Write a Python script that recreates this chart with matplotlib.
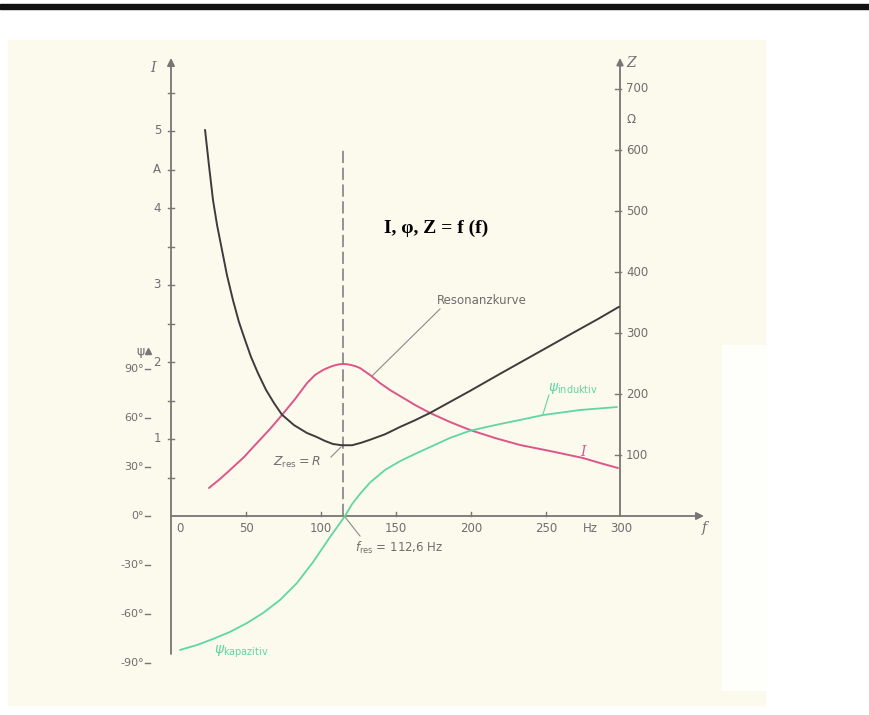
import matplotlib
matplotlib.use("Agg")
import matplotlib.pyplot as plt
from matplotlib.patches import Rectangle

# ---------------- data ----------------
# impedance Z (Ohm) versus frequency (Hz)
z_freq = [22.7, 25.3, 28.0, 30.7, 34.0, 37.3, 41.3, 45.3, 49.3, 53.3, 58.0, 63.3,
          68.7, 74.0, 82.0, 90.7, 96.7, 102.7, 108.0, 114.0, 120.7, 126.7, 132.7,
          142.7, 152.7, 162.7, 172.7, 186.0, 199.3, 219.3, 236.0, 252.7, 269.3,
          284.7, 298.7]
z_ohm = [633, 575, 518, 477, 436, 395, 354, 318, 289, 261, 234, 207,
         185, 166, 149, 136, 130, 123, 118, 116, 116, 120, 125,
         134, 146, 157, 169, 187, 205, 233, 256, 279, 302,
         323, 343]

# current I (A) versus frequency (Hz) - Resonanzkurve
i_freq = [25.3, 32.7, 39.3, 48.7, 57.3, 66.0, 74.0, 82.7, 90.7, 96.0, 101.3,
          105.0, 108.0, 111.0, 114.0, 117.0, 120.0, 123.0, 126.0, 132.7, 139.3,
          146.0, 152.7, 162.7, 172.7, 186.0, 199.3, 216.0, 232.7, 252.7, 274.7,
          286.0, 298.0]
i_amp = [0.364, 0.481, 0.597, 0.766, 0.948, 1.130, 1.312, 1.519, 1.727, 1.831, 1.896,
         1.928, 1.950, 1.966, 1.974, 1.972, 1.961, 1.945, 1.922, 1.831, 1.727,
         1.636, 1.558, 1.442, 1.338, 1.221, 1.117, 1.013, 0.922, 0.844, 0.753,
         0.688, 0.623]

# phase angle phi (degrees) versus frequency (Hz)
phi_freq = [6.0, 17.3, 28.0, 39.3, 50.7, 61.3, 72.7, 84.0, 94.7, 106.0, 111.3, 116.0,
            120.7, 126.0, 132.7, 142.7, 152.7, 162.7, 172.7, 186.0, 199.3, 219.3,
            232.7, 248.0, 272.7, 297.3]
phi_deg = [-82.0, -79.0, -75.3, -71.0, -65.5, -59.4, -51.4, -41.0, -28.2, -12.9, -6.1, 0.0,
           7.3, 13.5, 20.5, 28.2, 33.6, 38.0, 42.2, 47.8, 52.2, 56.3,
           58.8, 61.8, 64.9, 66.7]

res_line_f = 114.7          # position of the dashed resonance line
res_line_top_i = 4.78

x_ticks = [50, 100, 150, 200, 250, 300]
x_ticklabels = ["50", "100", "150", "200", "250", "300"]
i_ticks_major = [1, 2, 3, 4, 5]
i_ticks_minor = [0.5, 1.5, 2.5, 3.5, 4.5, 5.5]
z_ticks = [100, 200, 300, 400, 500, 600, 700]
phi_ticks = [90, 60, 30, 0, -30, -60, -90]

# ---------------- figure geometry ----------------
W, H = 869, 715
PX0, PXS = 171.0, 1.5     # pixel of f=0, pixels per Hz
PY0, PYS = 516.0, 77.0    # pixel of I=0, pixels per A
KZ = PYS / 0.61           # Ohm per A of screen height
KP = 30.0 * PYS / 49.0    # degrees per A of screen height

xlim = ((0 - PX0) / PXS, (W - PX0) / PXS)
ylim = ((PY0 - H) / PYS, PY0 / PYS)


def P(x, y):
    """pixel -> (f, I) data coordinates of the main axes"""
    return ((x - PX0) / PXS, (PY0 - y) / PYS)


AX_C = "#767676"
TXT_C = "#6e6e6e"
BLK_C = "#3c3c3c"
PINK_C = "#dc5688"
GREEN_C = "#5fd6a4"

fig = plt.figure(figsize=(W / 100, H / 100), dpi=100)
fig.patch.set_facecolor("white")

# background (scanned page)
fig.patches.append(Rectangle((0, 1 - 9 / H), 1, 5 / H, transform=fig.transFigure,
                             color="#111111", zorder=-10))
fig.patches.append(Rectangle((8 / W, 1 - 705 / H), 757 / W, 665 / H, transform=fig.transFigure,
                             color="#fcf9ed", zorder=-10))
fig.patches.append(Rectangle((722 / W, 1 - 690 / H), 43 / W, 345 / H, transform=fig.transFigure,
                             color="#fefefb", zorder=-9))

ax = fig.add_axes([0, 0, 1, 1])
ax.set_xlim(*xlim)
ax.set_ylim(*ylim)
ax.axis("off")

axz = ax.twinx()
axz.set_ylim(ylim[0] * KZ, ylim[1] * KZ)
axz.axis("off")
axp = ax.twinx()
axp.set_ylim(ylim[0] * KP, ylim[1] * KP)
axp.axis("off")

# ---------------- axes lines ----------------
lw_ax = 1.3
ax.annotate("", xy=P(704, 516), xytext=P(171, 516),
            arrowprops=dict(arrowstyle="-|>", color=AX_C, lw=lw_ax, mutation_scale=11,
                            shrinkA=0, shrinkB=0))
ax.annotate("", xy=P(171, 58), xytext=P(171, 654),
            arrowprops=dict(arrowstyle="-|>", color=AX_C, lw=lw_ax, mutation_scale=11,
                            shrinkA=0, shrinkB=0))
ax.annotate("", xy=P(620, 58), xytext=P(620, 516),
            arrowprops=dict(arrowstyle="-|>", color=AX_C, lw=lw_ax, mutation_scale=10,
                            shrinkA=0, shrinkB=0))

tk = 3.0 / PXS   # tick half length in Hz
for v in i_ticks_major + i_ticks_minor:
    ax.plot([-tk, tk], [v, v], color=AX_C, lw=1.0)
for v in i_ticks_major:
    ax.text(P(161, 0)[0], v, str(v), ha="right", va="center", fontsize=8.5, color=TXT_C)
ax.text(P(161, 0)[0], 4.5, "A", ha="right", va="center", fontsize=8.5, color=TXT_C)
ax.text(*P(153, 68), "I", ha="center", va="center", fontsize=10, color=TXT_C,
        style="italic", family="DejaVu Serif")

# phi scale: second label column left of the I labels
for v in phi_ticks:
    axp.plot([P(145, 0)[0], P(150, 0)[0]], [v, v], color=AX_C, lw=1.0)
    lab = ("-" + str(abs(v)) if v < 0 else str(v)) + "\u00b0"
    axp.text(P(144, 0)[0], v, lab, ha="right", va="center", fontsize=8, color=TXT_C)
ax.text(*P(140, 352), "\u03c8", ha="center", va="center", fontsize=9, color=TXT_C)
ax.plot(*P(148, 351), marker="^", ms=4, color=AX_C)

for v, lab in zip(x_ticks, x_ticklabels):
    if v < 300:
        ax.plot([v, v], [0, 4 / PYS], color=AX_C, lw=1.0)
    ax.text(v, P(0, 529)[1], lab, ha="center", va="center", fontsize=8.5, color=TXT_C)
ax.text(*P(180, 529), "0", ha="center", va="center", fontsize=8.5, color=TXT_C)
ax.text(*P(590, 529), "Hz", ha="center", va="center", fontsize=8.5, color=TXT_C)
ax.text(*P(704, 528), "f", ha="center", va="center", fontsize=10, color=TXT_C,
        style="italic", family="DejaVu Serif")

for v in z_ticks:
    axz.plot([300 - 2 * tk, 300], [v, v], color=AX_C, lw=1.0)
    axz.text(P(626, 0)[0], v, str(v), ha="left", va="center", fontsize=8.5, color=TXT_C)
axz.text(P(626, 0)[0], 650, "\u03a9", ha="left", va="center", fontsize=8.5, color=TXT_C)
ax.text(*P(626, 63), "Z", ha="left", va="center", fontsize=10, color=TXT_C,
        style="italic", family="DejaVu Serif")

# ---------------- curves ----------------
ax.plot([res_line_f, res_line_f], [0, res_line_top_i], color="#777777", lw=1.1,
        dashes=(8, 3))
axz.plot(z_freq, z_ohm, color=BLK_C, lw=1.4, solid_capstyle="round",
         solid_joinstyle="round")
ax.plot(i_freq, i_amp, color=PINK_C, lw=1.4, solid_capstyle="round",
        solid_joinstyle="round")
axp.plot(phi_freq, phi_deg, color=GREEN_C, lw=1.3, solid_capstyle="round",
         solid_joinstyle="round")

# ---------------- annotations ----------------
ax.text(*P(436, 228), "I, \u03c6, Z = f (f)", ha="center", va="center", fontsize=14,
        fontweight="bold", family="Liberation Serif", color="black")

ax.text(*P(437, 301), "Resonanzkurve", ha="left", va="center", fontsize=8.5, color=TXT_C)
ax.plot(*zip(P(440, 309), P(372, 376)), color="#8a8a8a", lw=0.8)

ax.text(*P(273, 462), r"$Z_{\rm res}=R$", ha="left", va="center", fontsize=9, color=TXT_C)
ax.plot(*zip(P(331, 457), P(341, 447)), color="#8a8a8a", lw=0.8)

ax.text(*P(355, 548), r"$f_{\rm res}$ = 112,6 Hz", ha="left", va="center", fontsize=8.5,
        color=TXT_C)
ax.plot(*zip(P(345, 517), P(360, 536)), color="#8a8a8a", lw=0.8)

ax.text(*P(583, 452), "I", ha="center", va="center", fontsize=10, color=PINK_C,
        style="italic", family="DejaVu Serif")
ax.text(*P(548, 388), r"$\psi_{\rm induktiv}$", ha="left", va="center", fontsize=10,
        color=GREEN_C)
ax.plot(*zip(P(549, 395), P(543, 414)), color=GREEN_C, lw=0.8)
ax.text(*P(214, 652), r"$\psi_{\rm kapazitiv}$", ha="left", va="center", fontsize=10,
        color=GREEN_C)

fig.savefig("out.png", dpi=100)
